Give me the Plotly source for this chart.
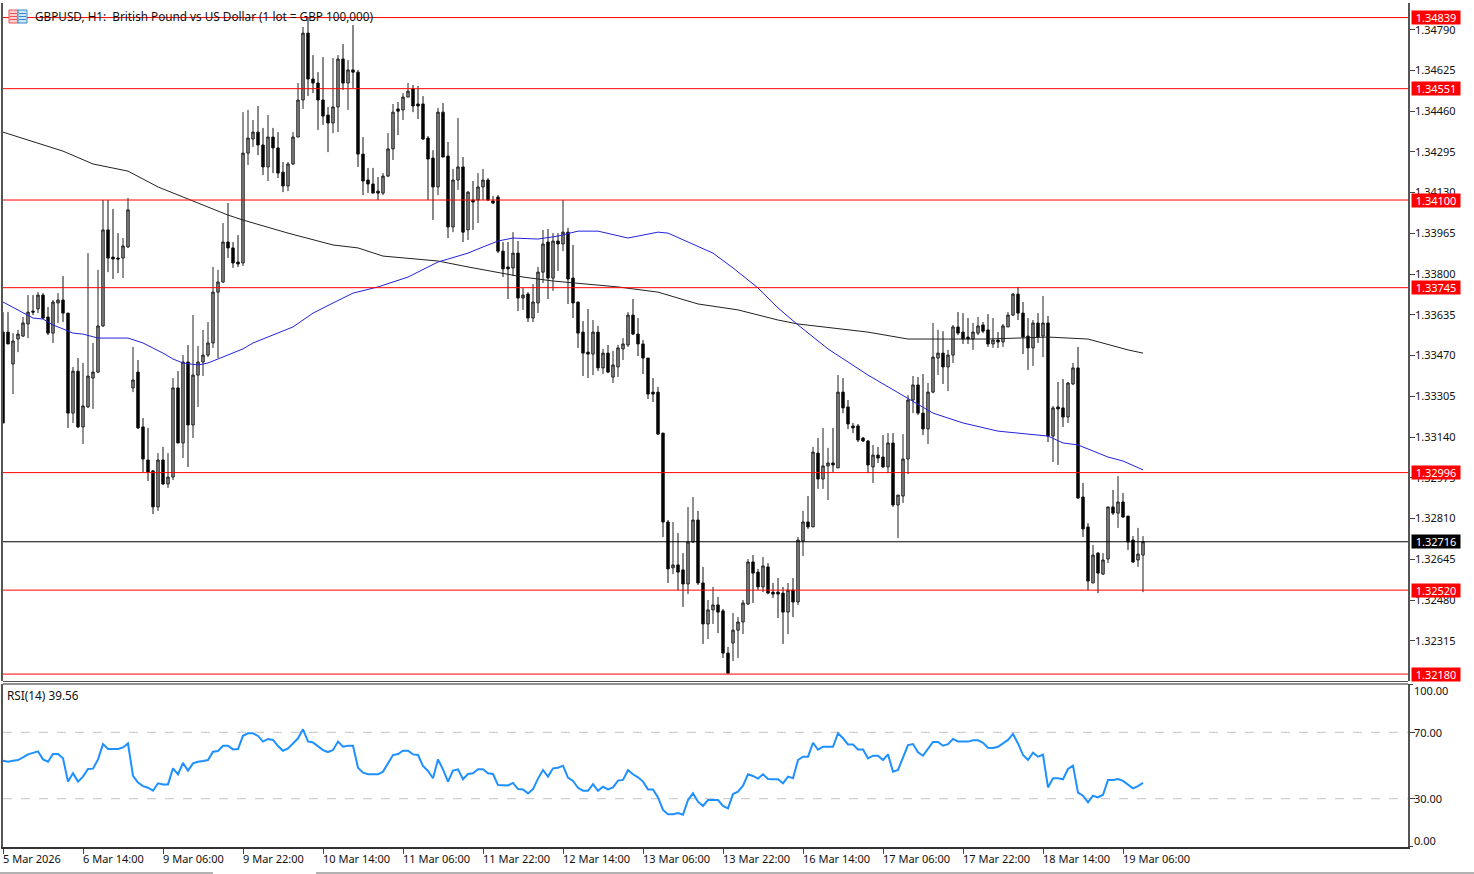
import plotly.graph_objects as go

W, H = 1474, 874

# Prices in points (1 point = 0.00001)
open_pts = [133565,133565,133436,133537,133549,133598,133650,133659,133715,133626,133561,133683,133695,133642,133237,133407,133181,133262,133379,133403,
133590,133979,133869,133865,133865,133910,133339,133403,133181,133047,133003,132857,133047,132950,132978,133339,133116,133444,133189,133391,
133444,133472,133521,133727,133768,133930,133906,133849,133845,134290,134347,134375,134323,134234,134355,134311,134213,134157,134246,134355,
134505,134776,134590,134574,134505,134444,134412,134477,134671,134574,134627,134618,134286,134181,134165,134136,134128,134197,134307,134469,
134465,134517,134550,134489,134489,134351,134270,134153,134456,134278,133991,134181,134234,133979,134100,134100,134153,134181,134096,134112,
133893,133829,133825,133885,133703,133719,133622,133683,133808,133930,133784,133934,133922,133970,133784,133687,133565,133484,133476,133565,
133420,133480,133383,133424,133497,133513,133634,133557,133517,133460,133322,133322,133156,132796,132610,132622,132602,132545,132715,132804,
132549,132383,132440,132460,132436,132265,132306,132358,132391,132464,132634,132593,132533,132614,132512,132512,132508,132431,132520,132472,
132719,132796,132776,133075,132970,133023,133035,133015,133322,133262,133185,133185,133136,133124,133019,133067,133059,133019,133116,132865,
132901,133051,133290,133351,133237,133173,133322,133460,133480,133424,133472,133586,133565,133545,133537,133561,133594,133574,133517,133533,
133525,133586,133634,133719,133642,133549,133501,133602,133549,133602,133144,133262,133258,133221,133355,133420,132897,132776,132549,132670,
132585,132646,132857,132832,132877,132820,132723,132642,132662]
high_pts = [133646,133646,133561,133574,133626,133715,133715,133727,133723,133667,133695,133723,133792,133642,133424,133460,133440,133885,133521,133817,
134100,134100,134064,133966,133946,134108,133505,133452,133217,133177,133007,133075,133100,133075,133379,133407,133472,133513,133634,133509,
133574,133606,133829,133817,134007,134088,133930,133958,134456,134465,134424,134481,134392,134444,134392,134375,134254,134254,134375,134574,
134801,134837,134687,134618,134679,134477,134675,134687,134732,134667,134809,134627,134355,134230,134230,134193,134209,134371,134489,134497,
134533,134574,134566,134562,134521,134359,134302,134473,134493,134335,134226,134432,134274,134136,134177,134209,134226,134189,134116,134120,
133930,133930,133970,133934,133744,133727,133760,133829,133979,133983,133966,133966,134100,133987,133918,133687,133610,133659,133614,133590,
133497,133513,133489,133513,133541,133646,133699,133622,133533,133460,133379,133343,133156,132804,132796,132751,132670,132857,132897,132841,
132614,132480,132533,132492,132444,132290,132427,132411,132480,132646,132662,132606,132654,132630,132549,132569,132533,132549,132569,132735,
132841,132901,133100,133136,133177,133096,133177,133391,133379,133290,133197,133193,133140,133128,133108,133100,133148,133156,133156,132905,
133152,133310,133387,133383,133395,133359,133602,133574,133569,133493,133594,133646,133642,133622,133602,133626,133606,133638,133622,133565,
133598,133646,133723,133748,133687,133622,133614,133642,133711,133630,133266,133363,133375,133363,133440,133505,132954,132792,132703,132674,
132670,132857,132926,132982,132913,132820,132739,132772,132739]
low_pts = [133197,133517,133314,133484,133545,133541,133634,133642,133618,133553,133521,133602,133606,133177,133197,133177,133112,133258,133254,133399,
133586,133808,133780,133804,133784,133906,133322,133173,132998,132962,132828,132841,132946,132934,132966,133116,133055,133019,133136,133262,
133387,133464,133501,133460,133764,133865,133825,133829,133833,134242,134315,134282,134201,134177,134209,134189,134132,134136,134242,134355,
134469,134521,134533,134384,134404,134294,134371,134375,134546,134465,134554,134234,134120,134128,134128,134100,134120,134193,134262,134363,
134424,134517,134456,134428,134343,134100,134019,134120,134274,133946,133970,134141,133930,133938,133979,134007,134100,134096,134084,133885,
133788,133699,133792,133650,133655,133606,133606,133642,133764,133699,133732,133813,133893,133679,133622,133501,133387,133379,133391,133407,
133395,133399,133359,133383,133452,133505,133553,133468,133395,133294,133282,133148,132735,132549,132585,132520,132452,132504,132711,132541,
132302,132322,132383,132346,132245,132180,132233,132245,132342,132460,132468,132520,132512,132504,132488,132407,132302,132342,132411,132460,
132658,132768,132776,132930,132930,132885,132998,133015,133237,133173,133156,133120,133120,132994,132954,133035,133015,132994,132857,132731,
132873,132990,133237,133229,133148,133112,133318,133391,133355,133326,133440,133553,133517,133517,133493,133553,133561,133505,133501,133501,
133505,133586,133630,133614,133476,133412,133428,133521,133464,133120,133039,133027,133181,133197,133351,132889,132735,132520,132549,132508,
132581,132630,132824,132772,132812,132682,132630,132614,132512]
close_pts = [133197,133517,133529,133557,133602,133646,133646,133715,133622,133561,133687,133695,133642,133237,133407,133181,133266,133387,133403,133590,
133979,133865,133861,133861,133914,134060,133371,133177,133051,132998,132857,133047,132950,132978,133339,133116,133444,133189,133391,133444,
133472,133521,133727,133768,133930,133906,133845,133841,134290,134351,134375,134323,134234,134355,134311,134209,134157,134246,134355,134505,
134776,134590,134574,134505,134440,134412,134477,134671,134574,134627,134618,134286,134177,134165,134128,134128,134197,134307,134456,134460,
134517,134541,134481,134481,134347,134266,134153,134456,134274,133991,134181,134234,133970,134132,134092,134153,134181,134100,134088,133893,
133821,133821,133885,133703,133715,133622,133687,133808,133922,133784,133934,133922,133970,133780,133683,133561,133480,133476,133565,133420,
133480,133403,133432,133501,133517,133634,133557,133517,133460,133314,133314,133152,132796,132606,132622,132593,132545,132715,132804,132549,
132383,132440,132460,132431,132265,132184,132358,132391,132468,132634,132589,132533,132618,132508,132504,132504,132431,132520,132472,132723,
132796,132776,133079,132970,133023,133035,133027,133322,133258,133193,133177,133128,133124,133027,133067,133055,133019,133116,132865,132905,
133051,133290,133351,133237,133173,133322,133464,133480,133424,133472,133586,133561,133537,133537,133565,133590,133569,133517,133533,133525,
133590,133634,133719,133642,133545,133501,133602,133545,133602,133144,133258,133254,133221,133359,133420,132893,132768,132557,132662,132589,
132642,132857,132832,132877,132816,132715,132634,132666,132716]

ma_fast_idx = [0,4,6,8,10,12,14,16,19,25,28,32,34,36,39,41,44,48,50,54,58,60,62,66,70,75,81,87,93,96,99,102,107,111,115,119,125,131,133,142,146,151,155,159,165,173,177,182,186,192,199,205,209,212,215,221,224,228]
ma_fast_pts = [133687,133642,133622,133618,133594,133578,133561,133557,133541,133541,133521,133480,133456,133440,133432,133440,133464,133497,133521,133553,133586,133614,133642,133683,133723,133748,133788,133849,133885,133910,133934,133946,133942,133954,133974,133974,133946,133970,133966,133885,133825,133744,133663,133594,133497,133391,133343,133286,133237,133197,133164,133152,133144,133116,133108,133059,133043,133007]
ma_slow_idx = [0,6,12,18,25,31,37,45,48,57,66,71,76,87,93,104,110,123,131,139,147,155,159,173,181,197,209,217,225,228]
ma_slow_pts = [134375,134335,134298,134246,134217,134153,134104,134039,134019,133966,133918,133906,133873,133853,133829,133788,133772,133748,133727,133679,133655,133614,133598,133565,133537,133537,133545,133537,133493,133480]

rsi = [52.9,52.3,52.8,53.3,54.9,56.7,57.6,58.5,53.7,52.3,56.9,56.9,54.3,40.3,45.3,40.3,43.3,47.9,48.1,53.7,
62.9,59.9,59.9,59.9,60.9,63.3,43.7,39.7,37.6,36.6,34.8,39.3,38.6,38.6,48.3,44.7,51.5,46.9,51.3,52.3,
52.7,53.3,58.3,58.7,61.9,61.9,59.7,59.9,67.9,69.4,69.4,67.8,64.4,66.0,65.4,61.7,58.9,60.3,63.3,66.4,
71.8,64.5,63.9,61.7,59.3,58.1,59.3,64.4,61.3,61.9,61.9,48.7,45.7,44.7,44.7,44.7,46.3,51.3,56.3,56.9,
58.9,58.9,56.7,56.3,49.7,46.7,42.3,53.7,47.7,40.3,46.9,47.7,41.7,44.9,45.3,47.7,47.7,45.3,44.9,38.2,
38.0,38.0,39.5,35.8,35.6,33.2,35.8,42.1,47.3,43.3,48.3,48.7,49.9,42.7,40.7,36.6,34.8,34.8,38.8,34.8,
37.2,35.6,36.8,40.9,41.3,47.3,44.7,42.9,40.3,35.6,35.6,30.8,23.2,20.6,20.6,21.4,20.4,29.2,33.2,28.2,
25.6,29.2,29.2,29.2,25.6,24.2,32.8,34.2,37.8,44.7,43.7,42.1,44.7,41.9,41.7,41.7,39.3,43.3,42.3,53.3,
55.3,55.3,63.7,59.5,61.3,61.3,61.3,69.4,66.4,62.7,62.7,59.7,59.7,54.3,55.9,55.9,53.3,56.7,46.3,47.3,
54.7,62.3,62.9,57.9,55.9,59.9,64.2,64.2,61.9,62.9,66.0,64.5,64.4,64.4,65.2,65.2,63.7,60.7,60.5,61.3,
63.3,65.4,69.0,63.3,56.3,53.3,57.7,55.3,56.5,36.8,42.3,42.3,41.7,47.9,49.9,33.6,31.8,27.8,31.8,30.8,
32.4,41.3,41.3,41.9,40.7,38.2,36.2,37.6,39.56]

level_red = [1.34839, 1.34551, 1.34100, 1.33745, 1.32996, 1.32520, 1.32180]
level_last = 1.32716
price_ticks = [1.34790,1.34625,1.34460,1.34295,1.34130,1.33965,1.33800,1.33635,1.33470,1.33305,1.33140,1.32975,1.32810,1.32645,1.32480,1.32315]
rsi_ticks = [100, 70, 30, 0]
rsi_levels = [70, 30]
time_tick_idx = [0,16,32,48,64,80,96,112,128,144,160,176,192,208,224]
time_tick_text = ["5 Mar 2026","6 Mar 14:00","9 Mar 06:00","9 Mar 22:00","10 Mar 14:00","11 Mar 06:00","11 Mar 22:00","12 Mar 14:00","13 Mar 06:00","13 Mar 22:00","16 Mar 14:00","17 Mar 06:00","17 Mar 22:00","18 Mar 14:00","19 Mar 06:00"]
title_text = "GBPUSD, H1:  British Pound vs US Dollar (1 lot = GBP 100,000)"
rsi_text = "RSI(14) 39.56"

FONT = "Noto Sans"
px = lambda x: x / W
py = lambda y: 1 - y / H
scale = lambda a: [v / 100000 for v in a]
idx = list(range(len(close_pts)))

fig = go.Figure()
fig.add_trace(go.Candlestick(
    x=idx, open=scale(open_pts), high=scale(high_pts), low=scale(low_pts), close=scale(close_pts),
    increasing=dict(line=dict(color="#222222", width=1), fillcolor="#8e8e8e"),
    decreasing=dict(line=dict(color="#111111", width=1), fillcolor="#000000"),
    whiskerwidth=0, xaxis="x", yaxis="y", showlegend=False))
fig.add_trace(go.Scatter(x=ma_slow_idx, y=scale(ma_slow_pts), mode="lines", line=dict(color="#222222", width=1), xaxis="x", yaxis="y", showlegend=False))
fig.add_trace(go.Scatter(x=ma_fast_idx, y=scale(ma_fast_pts), mode="lines", line=dict(color="#2222dd", width=1), xaxis="x", yaxis="y", showlegend=False))
fig.add_trace(go.Scatter(x=idx, y=rsi, mode="lines", line=dict(color="#1e90ff", width=2), xaxis="x2", yaxis="y2", showlegend=False))

shapes, annos = [], []
for lv in level_red:
    shapes.append(dict(type="line", xref="paper", yref="y", x0=px(3), x1=px(1408), y0=lv, y1=lv, line=dict(color="#ff0000", width=1), layer="above"))
    annos.append(dict(xref="paper", yref="y", x=px(1411), y=lv, xanchor="left", yanchor="middle", text=f"{lv:.5f}", showarrow=False,
                      bgcolor="#ff0000", width=48, height=13, align="center", borderpad=0, font=dict(color="white", size=11, family=FONT)))
shapes.append(dict(type="line", xref="paper", yref="y", x0=px(3), x1=px(1408), y0=level_last, y1=level_last, line=dict(color="#000000", width=1), layer="above"))
annos.append(dict(xref="paper", yref="y", x=px(1411), y=level_last, xanchor="left", yanchor="middle", text=f"{level_last:.5f}", showarrow=False,
                  bgcolor="#000000", width=48, height=13, align="center", borderpad=0, font=dict(color="white", size=11, family=FONT)))
for lv in rsi_levels:
    shapes.append(dict(type="line", xref="paper", yref="y2", x0=px(3), x1=px(1408), y0=lv, y1=lv, line=dict(color="#c4c4c4", width=1, dash="dash"), layer="below"))

# pane separators, bottom window edge and small ticks at RSI extremes
for x0, y0, x1, y1, c in [(3, 681.5, 1408, 681.5, "#555555"), (3, 684, 1408, 684, "#222222"), (0, 873, 213, 873, "#666666"), (316, 873, 1474, 873, "#666666"),
                          (1408, 684.5, 1413, 684.5, "#444444"), (1408, 846.5, 1413, 846.5, "#444444")]:
    shapes.append(dict(type="line", xref="paper", yref="paper", x0=px(x0), x1=px(x1), y0=py(y0), y1=py(y1), line=dict(color=c, width=1)))

# symbol icon in the header
for x0, x1, c, f in [(9, 18, "#ee5555", "#fbd0d0"), (18, 27, "#3388cc", "#cfe6f7")]:
    shapes.append(dict(type="rect", xref="paper", yref="paper", x0=px(x0), x1=px(x1), y0=py(23), y1=py(10), line=dict(color=c, width=1), fillcolor=f))
    for yy in (13.5, 16.5, 19.5):
        shapes.append(dict(type="line", xref="paper", yref="paper", x0=px(x0 + 1), x1=px(x1 - 1), y0=py(yy), y1=py(yy), line=dict(color=c, width=1)))

annos.append(dict(xref="paper", yref="paper", x=px(33), y=py(16.5), xanchor="left", yanchor="middle", text=title_text, showarrow=False, font=dict(size=11.75, color="#111111", family=FONT)))
annos.append(dict(xref="paper", yref="paper", x=px(5), y=py(695), xanchor="left", yanchor="middle", text=rsi_text, showarrow=False, font=dict(size=11.8, color="#111111", family=FONT)))
for v, yy in zip(rsi_ticks, [690, 732.5, 798.5, 840]):
    annos.append(dict(xref="paper", yref="paper", x=px(1412), y=py(yy), xanchor="left", yanchor="middle", text=f"{v:.2f}", showarrow=False, font=dict(size=11, color="#111111", family=FONT)))
for i, t in zip(time_tick_idx, time_tick_text):
    annos.append(dict(xref="x2", yref="paper", x=i, y=py(858.5), xanchor="left", yanchor="middle", text=t, showarrow=False, xshift=-2, font=dict(size=11, color="#111111", family=FONT)))

x_range = [0, 281]
fig.update_layout(
    width=W, height=H, margin=dict(l=0, r=0, t=0, b=0), paper_bgcolor="white", plot_bgcolor="white",
    showlegend=False, hovermode=False, shapes=shapes, annotations=annos,
    font=dict(family=FONT, size=11, color="#111111"),
    xaxis=dict(domain=[px(3), px(1408)], range=x_range, anchor="y", showticklabels=False, ticks="", showgrid=False, zeroline=False,
               rangeslider=dict(visible=False), showline=False),
    yaxis=dict(domain=[py(681), py(3)], range=[1.32152, 1.34898], side="right", anchor="x", tickvals=price_ticks, tickformat=".5f",
               ticks="outside", ticklen=5, tickcolor="#444444", ticklabelstandoff=-2, showgrid=False, zeroline=False, showline=True, linecolor="#555555", linewidth=1.5, mirror=True),
    xaxis2=dict(domain=[px(3), px(1408)], range=x_range, anchor="y2", tickvals=time_tick_idx, ticktext=[""] * len(time_tick_idx), ticks="outside", ticklen=5,
                tickcolor="#444444", showgrid=False, zeroline=False, showline=True, linecolor="#333333", linewidth=1.5),
    yaxis2=dict(domain=[py(847), py(684)], range=[0.9, 99.1], side="right", anchor="x2", tickvals=rsi_levels, ticktext=["", ""], ticks="outside", ticklen=5,
                tickcolor="#444444", showgrid=False, zeroline=False, showline=True, linecolor="#555555", linewidth=1.5, mirror=True),
)
fig.write_html("out.html", config=dict(displayModeBar=False), post_script="document.body.style.margin='0';document.documentElement.style.overflow='hidden';")
